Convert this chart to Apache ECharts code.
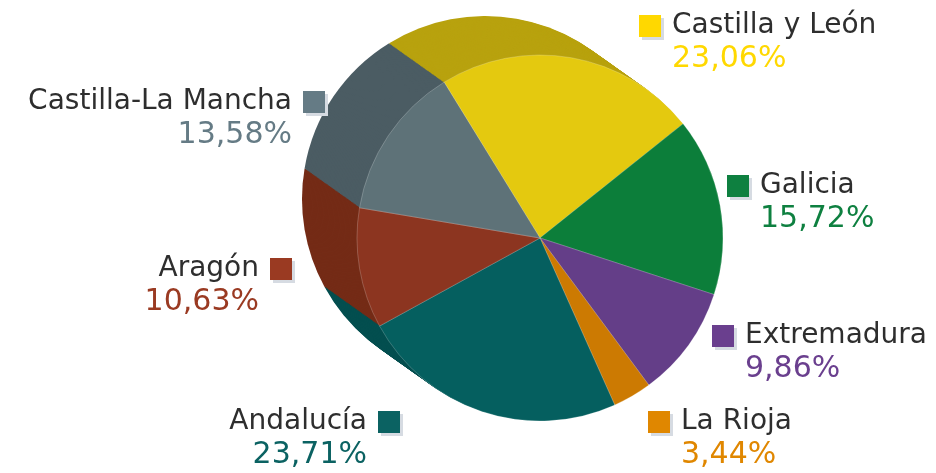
<!DOCTYPE html>
<html>
<head>
<meta charset="utf-8">
<script src="https://cdn.jsdelivr.net/npm/echarts@6/dist/echarts.min.js"></script>
<style>
  html, body { margin: 0; padding: 0; background: #fff; }
  #chart { width: 936px; height: 473px; }
</style>
</head>
<body>
<div id="chart"></div>
<script>
// data
const regions = ["Castilla y León", "Galicia", "Extremadura", "La Rioja", "Andalucía", "Aragón", "Castilla-La Mancha"];
const shares = [23.06, 15.72, 9.86, 3.44, 23.71, 10.63, 13.58];

// styles
const topColors = ["#e4c90f", "#0c7e3a", "#643e88", "#cc7a02", "#055f5f", "#8c3520", "#5e7278"];
const sideColors = ["#b8a20e", "#0a6630", "#51326e", "#a86402", "#034e4f", "#742b16", "#4b5c63"];
const labelColors = ["#ffd800", "#0e8040", "#6a3f8e", "#e08700", "#0b6262", "#9a3a22", "#657b85"];
// label anchor: [x, y, side]
const labelPos = [
    [639, 12, "right"],
    [727, 172, "right"],
    [712, 322, "right"],
    [648, 408, "right"],
    [400, 408, "left"],
    [292, 255, "left"],
    [325, 88, "left"]
];

const myChart = echarts.init(document.getElementById("chart"));

const frontCenter = [540, 238];
const backCenter = [485, 199];
const radius = 183;
const startAngle = 121.6;
const steps = 45;

const pieData = regions.map((name, i) => ({name: name, value: shares[i]}));

const fmtPct = v => v.toFixed(2).replace(".", ",") + "%";

const rich = {
    n: {fontFamily: "DejaVu Sans", fontSize: 28, color: "#2e2e2e", lineHeight: 34},
    g: {width: 11, fontSize: 10},
    ind: {width: 33, fontSize: 10}
};
topColors.forEach((c, i) => {
    rich["sq" + i] = {
        width: 22, height: 22, fontSize: 10,
        backgroundColor: labelColors[i],
        shadowColor: "#d6dbe2", shadowOffsetX: 3, shadowOffsetY: 3, shadowBlur: 0
    };
    rich["p" + i] = {fontFamily: "DejaVu Sans", fontSize: 30, color: labelColors[i], lineHeight: 32};
});

const series = [];
// side of the cylinder: stacked copies from back to front
for (let s = steps; s >= 1; s--) {
    const t = s / steps;
    series.push({
        type: "pie",
        silent: true,
        animation: false,
        center: [
            frontCenter[0] + (backCenter[0] - frontCenter[0]) * t,
            frontCenter[1] + (backCenter[1] - frontCenter[1]) * t
        ],
        radius: radius,
        startAngle: startAngle,
        label: {show: false},
        labelLine: {show: false},
        emphasis: {disabled: true},
        itemStyle: {
            color: p => sideColors[p.dataIndex],
            borderWidth: 0
        },
        data: pieData
    });
}

// top face
series.push({
    type: "pie",
    silent: true,
    animation: false,
    center: frontCenter,
    radius: radius,
    startAngle: startAngle,
    emphasis: {disabled: true},
    itemStyle: {
        color: p => topColors[p.dataIndex],
        borderColor: "rgba(255,255,255,0.35)",
        borderWidth: 0.6
    },
    labelLine: {show: false},
    label: {
        show: true,
        overflow: "none",
        rich: rich,
        formatter: p => {
            const i = p.dataIndex;
            if (labelPos[i][2] === "right") {
                return "{sq" + i + "| }{g| }{n|" + p.name + "}\n{ind| }{p" + i + "|" + fmtPct(p.value) + "}";
            }
            return "{n|" + p.name + "}{g| }{sq" + i + "| }\n{p" + i + "|" + fmtPct(p.value) + "}{ind| }";
        }
    },
    labelLayout: p => {
        const lp = labelPos[p.dataIndex];
        return {
            x: lp[0],
            y: lp[1] - 3,
            align: lp[2] === "right" ? "left" : "right",
            verticalAlign: "top",
            hideOverlap: false,
            moveOverlap: false
        };
    },
    data: pieData
});

myChart.setOption({
    animation: false,
    series: series
});
</script>
</body>
</html>
